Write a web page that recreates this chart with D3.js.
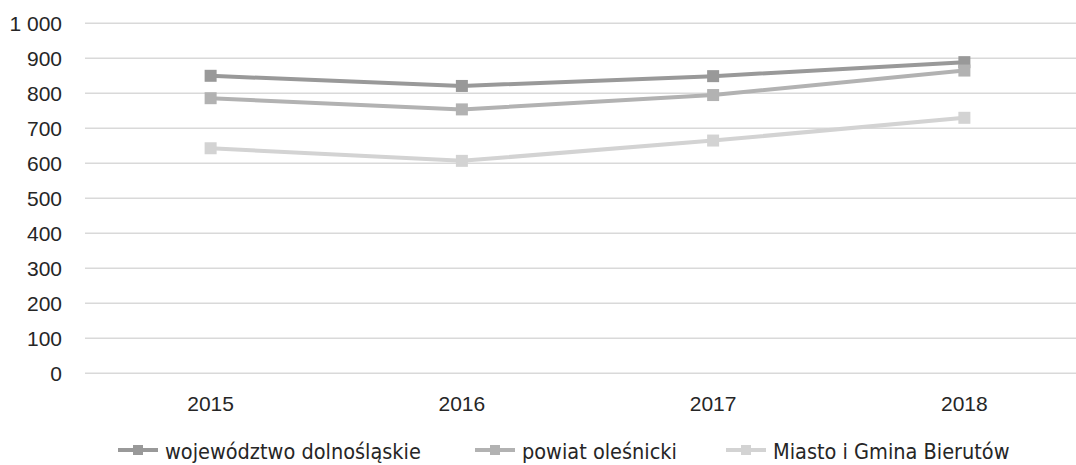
<!DOCTYPE html>
<html>
<head>
<meta charset="utf-8">
<script src="https://cdn.jsdelivr.net/npm/d3@7"></script>
<style>
  html, body { margin: 0; padding: 0; background: #fff; }
  svg { display: block; }
</style>
</head>
<body>
<svg id="chart" width="1076" height="465"></svg>
<script>
const categories = ["2015", "2016", "2017", "2018"];
const seriesNames = ["województwo dolnośląskie", "powiat oleśnicki", "Miasto i Gmina Bierutów"];
const wojValues = [850, 821, 849, 889];
const powiatValues = [786, 754, 795, 865];
const miastoValues = [643, 607, 665, 730];
const yTicks = [0, 100, 200, 300, 400, 500, 600, 700, 800, 900, 1000];
const seriesColors = ["#999999", "#b2b2b2", "#d3d3d3"];

const series = [
  { name: seriesNames[0], values: wojValues, color: seriesColors[0] },
  { name: seriesNames[1], values: powiatValues, color: seriesColors[1] },
  { name: seriesNames[2], values: miastoValues, color: seriesColors[2] }
];

const svg = d3.select("#chart");
const x = d3.scaleBand().domain(categories).range([85, 1090]);
const y = d3.scaleLinear().domain([0, 1000]).range([373.3, 23.3]);

const fmt = v => d3.format(",")(v).replace(/,/g, " ");

// gridlines
svg.append("g").selectAll("line").data(yTicks).join("line")
  .attr("x1", x.range()[0]).attr("x2", x.range()[1])
  .attr("y1", d => y(d)).attr("y2", d => y(d))
  .attr("stroke", "#d9d9d9").attr("stroke-width", 1.5);

// y axis labels
const yAxis = d3.axisLeft(y).tickValues(yTicks).tickFormat(fmt).tickSize(0).tickPadding(0);
svg.append("g").attr("transform", "translate(62,0)").call(yAxis)
  .call(g => g.select(".domain").remove())
  .call(g => g.selectAll("text")
    .attr("font-family", "Liberation Sans, Arial, sans-serif")
    .attr("font-size", 21).attr("fill", "#262626"));

// x axis labels
const xAxis = d3.axisBottom(x).tickSize(0).tickPadding(0);
svg.append("g").attr("transform", "translate(0,396)").call(xAxis)
  .call(g => g.select(".domain").remove())
  .call(g => g.selectAll("text")
    .attr("font-family", "Liberation Sans, Arial, sans-serif")
    .attr("font-size", 21).attr("fill", "#262626"));

const cx = c => x(c) + x.bandwidth() / 2;
const line = d3.line().x((d, i) => cx(categories[i])).y(d => y(d));

const ms = 12;
series.forEach(s => {
  const g = svg.append("g");
  g.append("path").datum(s.values)
    .attr("d", line).attr("fill", "none")
    .attr("stroke", s.color).attr("stroke-width", 4).attr("stroke-linejoin", "round");
  g.selectAll("rect").data(s.values).join("rect")
    .attr("x", (d, i) => cx(categories[i]) - ms / 2)
    .attr("y", d => y(d) - ms / 2)
    .attr("width", ms).attr("height", ms)
    .attr("fill", s.color);
});

// legend
const legendX = [118, 475, 726];
const legendY = 450;
series.forEach((s, i) => {
  const g = svg.append("g").attr("transform", `translate(${legendX[i]},${legendY})`);
  g.append("line").attr("x1", 0).attr("x2", 40).attr("y1", 0).attr("y2", 0)
    .attr("stroke", s.color).attr("stroke-width", 4);
  g.append("rect").attr("x", 20 - 5).attr("y", -5).attr("width", 10).attr("height", 10)
    .attr("fill", s.color);
  g.append("text").attr("x", 47).attr("y", 9)
    .attr("font-family", "DejaVu Sans Condensed, DejaVu Sans, sans-serif")
    .attr("font-size", 21.5).attr("fill", "#262626")
    .text(s.name);
});
</script>
</body>
</html>
